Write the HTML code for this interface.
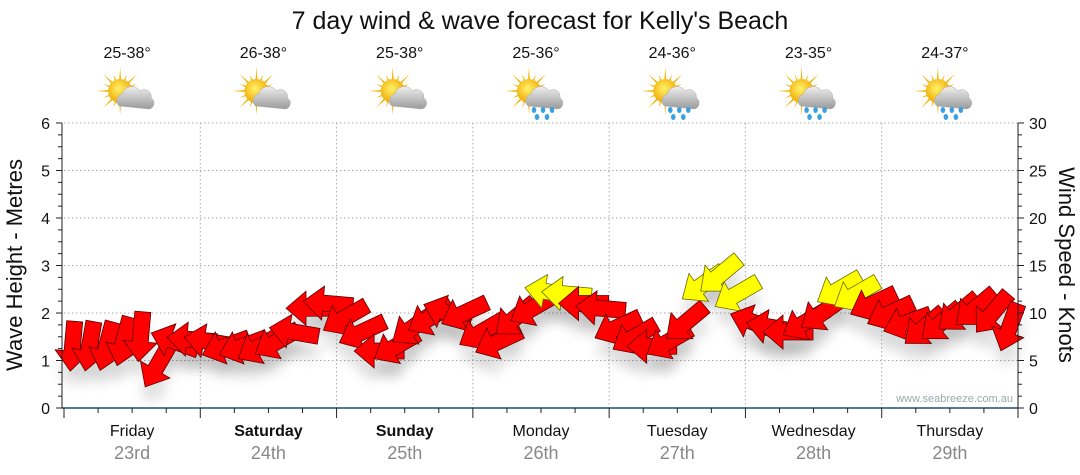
<!DOCTYPE html>
<html><head><meta charset="utf-8">
<style>
body{margin:0;background:#fff;font-family:"Liberation Sans",sans-serif;}
svg{display:block}
</style></head>
<body>
<svg id="chart" width="1080" height="475" viewBox="0 0 1080 475">
<defs>
<filter id="sh" x="-50%" y="-50%" width="200%" height="250%"><feGaussianBlur stdDeviation="6"/></filter>
<radialGradient id="sun" cx="0.45" cy="0.4" r="0.6"><stop offset="0" stop-color="#fff36a"/><stop offset="1" stop-color="#f0a800"/></radialGradient>
<linearGradient id="cloud" x1="0" y1="0" x2="0" y2="1"><stop offset="0" stop-color="#eee"/><stop offset="1" stop-color="#9a9a9a"/></linearGradient>
</defs>
<text x="540" y="29" text-anchor="middle" font-size="25" fill="#111">7 day wind &amp; wave forecast for Kelly's Beach</text>
<g id="grid"></g>
<g id="shadows"></g>
<g id="arrows"></g>
<g id="axes"></g>
<text x="1013" y="402" text-anchor="end" font-size="11" fill="#9aa">www.seabreeze.com.au</text>
<text transform="translate(22,265) rotate(-90)" text-anchor="middle" font-size="22" fill="#111">Wave Height - Metres</text>
<text transform="translate(1059,265) rotate(90)" text-anchor="middle" font-size="22" fill="#111">Wind Speed - Knots</text>
</svg>
<script>
const days=["Friday","Saturday","Sunday","Monday","Tuesday","Wednesday","Thursday"];
const dates=["23rd","24th","25th","26th","27th","28th","29th"];
const boldDays=[false,true,true,false,false,false,false];
const temps=["25-38°","26-38°","25-38°","25-36°","24-36°","23-35°","24-37°"];
const rain=[false,false,false,true,true,true,true];
const windSpeed=[6.5,6.5,6.5,7,7.5,4.5,7,7.2,
 7,6.5,6.5,6.5,7,8,10.5,11,
 9.5,8,6,6.5,8.5,9.5,10,10,
 8,7,9.5,10.5,12.2,12,11,10.5,
 8.5,7.5,6.5,7,9,13,14,12,
 9,8.5,8,9,10,12.5,12,11,
 10,9,8.5,9,10,10.5,10,8.5];
const windDir=[95,100,105,105,95,120,200,185,
 190,160,160,150,150,190,180,185,
 150,155,180,150,145,150,200,155,
 150,155,140,150,190,185,180,185,
 155,150,180,150,140,145,140,150,
 200,190,180,150,145,150,150,155,
 155,160,140,140,140,140,130,110];
const leftTicks=[0,1,2,3,4,5,6];
const rightTicks=[0,5,10,15,20,25,30];

const NS="http://www.w3.org/2000/svg";
const X0=64,X1=1018,Y0=408,Ytop=123;
const dayW=(X1-X0)/7;
const yM=m=>Y0-(Y0-Ytop)*m/6;
const yK=k=>Y0-(Y0-Ytop)*k/30;
const xI=i=>X0+dayW*(i+0.5)/8;
function mk(tag,attrs,parent,txt){const e=document.createElementNS(NS,tag);for(const k in attrs)e.setAttribute(k,attrs[k]);if(txt!==undefined)e.textContent=txt;parent.appendChild(e);return e;}
const grid=document.getElementById('grid'),axes=document.getElementById('axes'),svg=document.getElementById('chart');
for(let m=1;m<=6;m++){const l=mk('line',{x1:X0,x2:X1,y1:yM(m),y2:yM(m),stroke:'#aaa','stroke-dasharray':'1.5,2.5'},grid);

}
for(let d=1;d<7;d++){const x=X0+d*dayW;const l=mk('line',{x1:x,x2:x,y1:Ytop,y2:Y0,stroke:'#aaa','stroke-dasharray':'1.5,2.5'},grid);

}
mk('line',{x1:X0-2,x2:X1,y1:Y0,y2:Y0,stroke:'#1f4e6e','stroke-width':1.5},axes);
mk('line',{x1:X0-2,x2:X0-2,y1:Ytop,y2:Y0,stroke:'#222'},axes);
mk('line',{x1:X1,x2:X1,y1:Ytop,y2:Y0,stroke:'#222'},axes);
for(let q=0;q<=24;q++){const y=Y0-(Y0-Ytop)*q/24;const L=q%4==0?6:4;
mk('line',{x1:X0-2-L,x2:X0-2,y1:y,y2:y,stroke:'#222'},axes);
mk('line',{x1:X1,x2:X1+L,y1:y,y2:y,stroke:'#222'},axes);}
leftTicks.forEach(v=>{const t=mk('text',{x:50,y:yM(v)+6,'text-anchor':'end','font-size':16,fill:'#111'},axes,v);

});
rightTicks.forEach(v=>{const t=mk('text',{x:1029,y:yK(v)+6,'font-size':16,fill:'#111'},axes,v);

});
for(let q=0;q<=28;q++){const x=X0+q*dayW/4;mk('line',{x1:x,x2:x,y1:Y0,y2:Y0+(q%4==0?10:5),stroke:'#222'},axes);}
days.forEach((d,i)=>{const cx=X0+dayW*(i+0.5);
const t=mk('text',{x:cx,y:436,'text-anchor':'middle','font-size':16,fill:'#111','font-weight':boldDays[i]?'bold':'normal'},axes,d);


const t2=mk('text',{x:cx,y:459,'text-anchor':'middle','font-size':18,fill:'#888'},axes,dates[i]);


const t3=mk('text',{x:cx-5,y:58,'text-anchor':'middle','font-size':16,fill:'#111'},svg,temps[i]);


const g=mk('g',{transform:`translate(${cx-5},96)`},svg);


for(let r=0;r<16;r++){const a=r*Math.PI/8;const L=r%2?18:24;
mk('polygon',{points:`${-7+Math.cos(a-0.12)*9},${-5+Math.sin(a-0.12)*9} ${-7+Math.cos(a)*L},${-5+Math.sin(a)*L} ${-7+Math.cos(a+0.12)*9},${-5+Math.sin(a+0.12)*9}`,fill:'#f2b200'},g);}
mk('circle',{cx:-7,cy:-5,r:12,fill:'url(#sun)'},g);
mk('path',{d:'M-8 10 a7 7 0 0 1 3-12 a10 10 0 0 1 18-3 a7 7 0 0 1 11 7 a6 6 0 0 1 -2 11 z',fill:'url(#cloud)',stroke:'#aaa','stroke-width':0.5},g);
if(rain[i]){[[-2,14],[7,14],[16,14],[1,21],[11,21]].forEach(p=>mk('ellipse',{cx:p[0],cy:p[1],rx:2.3,ry:3,fill:'#3aa0e0'},g));}
});
const arr=document.getElementById('arrows'),shd=document.getElementById('shadows');
const shape='M-25,0 L-5,-17 L-5,-8 L25,-8 L25,8 L-5,8 L-5,17 Z';
windSpeed.forEach((k,i)=>{const x=xI(i),y=yK(k);const ang=windDir[i];
const s=mk('path',{d:shape,transform:`translate(${x},${y+16}) rotate(${ang+180})`,fill:'#000',opacity:0.12,filter:'url(#sh)'},shd);


const p=mk('path',{d:shape,transform:`translate(${x},${y}) rotate(${ang+180})`,fill:k>=11.8?'#ffff00':'#ff0000',stroke:k>=11.8?'#6a6a00':'#5a0000','stroke-width':0.8},arr);


});
</script>
</body></html>
